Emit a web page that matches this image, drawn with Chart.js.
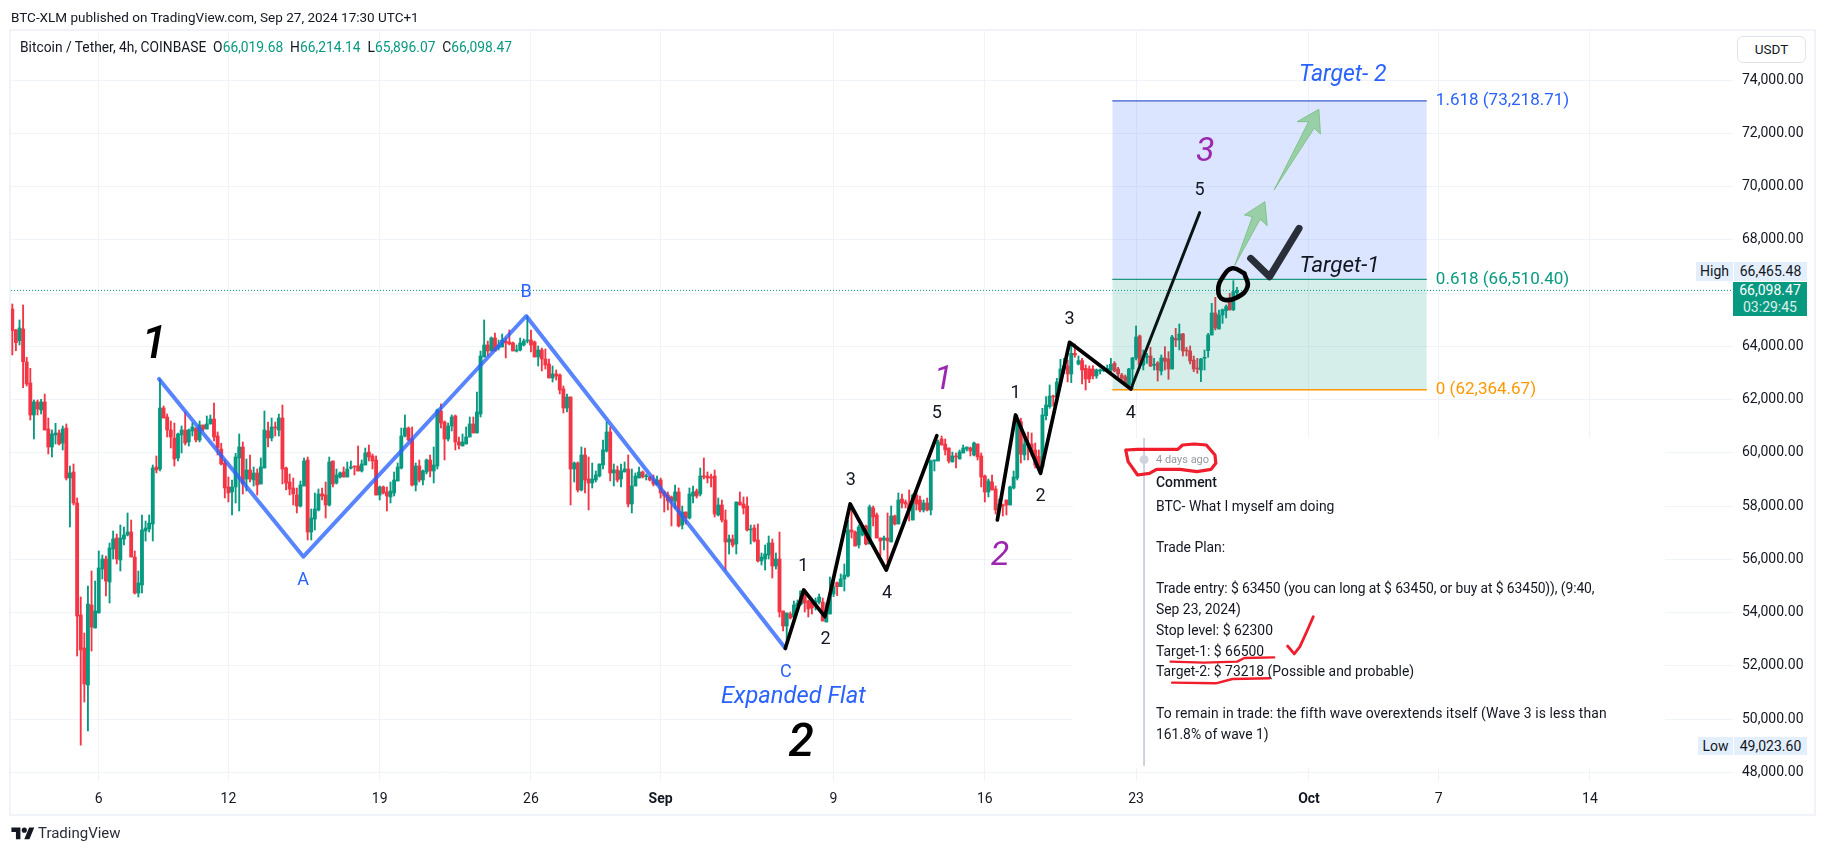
<!DOCTYPE html>
<html><head><meta charset="utf-8">
<script src="https://cdn.jsdelivr.net/npm/chart.js@4"></script>
<style>
html,body{margin:0;padding:0;background:#fff;width:1824px;height:853px;overflow:hidden;font-family:Roboto,sans-serif;color:#131722}
canvas{position:absolute;left:0;top:0}
.abs{position:absolute;white-space:pre}
#frame{position:absolute;left:9px;top:29px;width:1803px;height:783px;border:2px solid #f0f3fa}
.g{color:#089981}
.cl{position:absolute;left:1156px;white-space:pre;font-size:13.9px;line-height:20px;color:#131722}
.bx{position:absolute;text-align:center;font-size:14px;line-height:18px}
</style></head><body>
<div id="frame"></div>
<canvas id="c" width="1824" height="853"></canvas>
<div class="abs" style="left:11px;top:9px;font-size:13.5px;line-height:16px">BTC-XLM published on TradingView.com, Sep 27, 2024 17:30 UTC+1</div>
<div class="abs" style="left:20px;top:39px;font-size:13.8px;line-height:16px">Bitcoin / Tether, 4h, COINBASE  O<span class="g">66,019.68</span>  H<span class="g">66,214.14</span>  L<span class="g">65,896.07</span>  C<span class="g">66,098.47</span></div>
<div class="abs" style="left:1737px;top:36px;width:67px;height:25px;border:1px solid #e0e3eb;border-radius:6px;text-align:center;font-size:13.5px;line-height:25px;background:#fff">USDT</div>
<div class="bx" style="left:1696px;top:262px;width:37px;height:19px;background:#e3effd">High</div>
<div class="bx" style="left:1734px;top:262px;width:73px;height:19px;background:#e3effd">66,465.48</div>
<div class="bx" style="left:1733px;top:282px;width:74px;height:34px;background:#089981;color:#fff;font-size:14px;line-height:17px">66,098.47<br><span style="opacity:.85">03:29:45</span></div>
<div class="bx" style="left:1698px;top:737px;width:35px;height:18px;background:#e3effd">Low</div>
<div class="bx" style="left:1734px;top:737px;width:73px;height:18px;background:#e3effd">49,023.60</div>
<div class="cl" style="top:450px;font-size:11px;color:#9598a1">4 days ago</div>
<div class="cl" style="top:472px;font-weight:500">Comment</div>
<div class="cl" style="top:496px">BTC- What I myself am doing</div>
<div class="cl" style="top:537px">Trade Plan:</div>
<div class="cl" style="top:578px;letter-spacing:-.1px">Trade entry: $ 63450 (you can long at $ 63450, or buy at $ 63450)), (9:40,</div>
<div class="cl" style="top:599px">Sep 23, 2024)</div>
<div class="cl" style="top:620px">Stop level: $ 62300</div>
<div class="cl" style="top:641px">Target-1: $ 66500</div>
<div class="cl" style="top:661px">Target-2: $ 73218 (Possible and probable)</div>
<div class="cl" style="top:703px;letter-spacing:.13px">To remain in trade: the fifth wave overextends itself (Wave 3 is less than</div>
<div class="cl" style="top:724px">161.8% of wave 1)</div>
<svg class="abs" style="left:11px;top:825px" width="24" height="18" viewBox="0 0 36 28"><path fill="#131722" d="M14 22H7V11H0V4h14v18zM28 22h-8l7.5-18h8L28 22z"/><circle fill="#131722" cx="20" cy="8" r="4"/></svg>
<div class="abs" style="left:38px;top:824px;font-size:15px;line-height:18px;color:#2a2e39">TradingView</div>
<script>
const opens=[65401,64612,64212,64650,63411,62622,61421,61909,61608,61909,
60895,60219,60670,60745,60369,60932,59055,59280,58116,53910,
52671,51282,54286,53422,53985,55638,56013,55149,56389,56802,
55976,56764,56915,57027,56088,54736,55037,57065,57140,57328,
59468,59393,61683,61345,60857,60557,59806,60670,60857,60407,
60820,60932,60482,61045,60895,61083,61270,60632,60144,59618,
58717,58529,58717,59806,60219,59017,59355,58980,59243,58830,
59430,60820,60557,60970,60857,61308,59430,58905,58679,58416,
58003,58754,59731,57027,57515,57853,58454,58416,58041,59693,
58867,59092,59280,59092,59430,59505,59505,59318,59543,60031,
59881,59731,58416,58717,58529,58341,58492,58942,59430,60632,
60932,60520,58792,59505,58980,59281,59731,59318,59506,61571,
61158,60520,61008,61384,60407,60257,60332,60595,61083,60745,
61459,63599,64050,63824,64313,63937,63975,64200,64162,64125,
63824,63862,64050,64200,64237,64162,63599,63862,63524,63336,
62811,62961,62923,62398,61684,62097,59393,59619,58605,59919,
59018,58868,58980,59131,59544,60069,60783,59243,59356,59018,
59281,59393,58079,58755,59055,59280,59105,59093,58980,58792,
58980,58529,58417,58342,58191,58529,57290,57778,57553,58379,
58567,58454,59130,59130,59093,59130,57666,58041,57478,56652,
56764,56577,58154,58079,58004,57102,57178,56727,55938,56013,
56164,56614,55750,56013,54061,53497,53948,53835,54248,54324,
54737,54436,54398,54361,54399,54399,53648,53948,54699,55125,
54975,55262,55375,57102,57027,56539,56915,57253,56577,57929,
57666,56802,56727,56802,56652,57628,57328,58267,58154,58079,
57478,58417,58229,57853,58116,57853,59693,59693,60520,60332,
60182,59656,59881,59768,59994,60144,60182,59919,60332,59881,
59130,58529,58905,58642,57853,58041,58229,58041,58679,59055,
61170,59919,60369,60332,60106,59857,59481,61396,61734,62134,
62097,62660,63148,63261,62961,63737,63336,63461,63173,63148,
63148,62886,63073,63086,63111,63111,63361,63148,62923,62861,
62548,63148,63561,64388,63299,63587,63637,63286,63374,63073,
63561,63524,63148,64300,64237,64463,63862,63824,63486,63186,
63111,63549,63837,64425,65251,64650,65176,65339,65664,65376,66019.68];
const highs=[65589,64637,64988,65551,63586,63173,61984,61984,62009,62209,
61308,60857,61108,60857,61008,61083,59505,59581,58304,54586,
53234,54999,55563,55187,56314,56163,56126,56614,57065,56952,
57290,57215,57741,57478,56314,55563,57666,57440,57666,59543,
59881,62772,61759,61458,61195,61120,60745,61008,61533,60895,
61120,60932,61195,61045,61383,61421,61871,60782,60357,59731,
59092,58980,59981,60707,60407,59768,59919,59468,59393,59806,
61571,61158,61308,61158,61458,61796,59468,59205,59055,58679,
58942,59806,59843,57891,58492,58642,58679,58905,59843,59693,
59393,59280,59468,59656,59693,59505,60257,59731,60181,60294,
59956,59881,58754,58754,58717,58905,59280,59618,60932,61421,
60970,60970,59618,59731,59356,59769,59919,60219,61646,61834,
61196,61121,61421,61421,60595,60708,60971,61346,61346,62285,
63824,64989,64200,64350,64500,64237,64463,64313,64613,64162,
64050,64313,64275,65139,64613,64200,64012,63937,63900,63524,
63261,63111,62961,62510,62210,62097,59656,59656,60220,60182,
59844,59619,59318,59581,60482,61158,60971,59581,59506,59581,
59656,59919,59393,59243,59468,59318,59205,59130,59168,59130,
59055,58567,58529,58379,58792,58680,58004,57778,58680,58755,
58642,59431,59806,59280,59205,59355,58304,58229,57853,56915,
56915,58154,58529,58342,58342,57290,57290,57328,56239,56539,
56877,56764,56239,57027,54061,53986,54023,54436,54474,54812,
54849,54474,54436,54549,54699,54549,54361,55337,55225,55150,
55450,55826,57478,58004,57065,57290,57253,57290,58041,58004,
57741,56802,56877,57741,58004,57666,58492,58454,58229,58604,
58454,58567,58379,58229,58304,59731,59731,60482,60632,60520,
60182,60031,59994,60106,60294,60219,60219,60407,60332,59994,
59168,59017,59168,58755,58267,58079,58229,58755,59318,61420,
61300,60745,60782,60745,60369,60107,61671,62110,62548,62172,
62798,63511,63549,63486,64050,64087,63637,63549,63299,63261,
63274,63148,63148,63236,63299,63549,63424,63211,62986,62923,
63173,63587,64763,64425,63862,63737,63962,63549,63424,63674,
63987,63799,64413,64675,64838,64488,63962,64012,63637,63549,
63549,63862,64488,65614,65840,65364,65402,65552,65990,66465.48,66214.14];
const lows=[63674,63836,64049,62447,62510,61233,60519,61421,61458,60857,
59956,59843,60332,60294,60106,58980,57215,58041,52371,49023.6,
50643,49555,52558,53422,53985,55262,54624,54361,56013,55826,
55563,56539,56877,56088,54699,54586,54736,56689,57027,56689,
59243,59318,61308,60594,60181,59505,59693,59994,60294,60256,
60632,60407,60407,60820,60895,61083,60444,59919,59543,58304,
58154,57665,58116,57816,58454,58567,58905,58754,58416,58830,
59430,60219,60444,60632,60632,58830,58604,58416,58041,57741,
57966,58754,56727,56727,57102,57816,58229,57553,58003,58717,
58830,59055,59092,59092,59393,59167,59318,59280,59543,59693,
59393,58416,58229,58454,57816,58116,58379,58942,59393,60595,
60444,58754,58567,58905,58793,59206,59093,58868,59393,60933,
59731,60445,60820,60107,60144,60257,60332,60595,60745,60745,
61346,63599,63637,63824,63824,63862,63975,63562,64050,63824,
63787,63824,64012,64125,63787,63599,63261,63073,63148,62811,
62660,62735,62210,61496,61534,58042,58905,58530,58567,58492,
57854,58680,58905,59093,59393,60032,58943,58755,58905,58718,
59281,57966,57741,58755,59055,59055,58980,58943,58755,58792,
58304,57778,57853,57253,57891,57215,57140,57328,57515,58116,
58304,58379,59018,58867,58717,57591,57628,57403,55600,56201,
56464,56201,58041,57703,57065,56577,56652,55901,55788,55600,
56013,55300,55638,53835,53310,52750,53760,53760,54098,54286,
54023,53835,53948,54098,54324,53685,53648,53948,54599,54637,
54975,54812,55337,56802,56501,56426,56877,56539,56577,57253,
56802,56126,56351,55638,56652,57290,57328,57929,57929,57440,
57478,57853,57778,57778,57816,57666,59318,59693,60294,59919,
59618,59656,59431,59768,59994,60069,59881,59881,59731,58717,
58154,58342,58604,57703,57666,57628,57666,58041,58642,58980,
59618,59731,59731,59881,59431,59356,59481,61233,61671,61759,
62047,62610,62986,62660,62635,63587,63299,62585,62360,62635,
62773,62798,62961,63048,63048,63048,63036,62861,62710,62573,
62485,62397,63486,63173,63111,63361,63236,63111,62698,62923,
63111,62760,63148,63987,63862,63637,63637,63336,63048,62986,
62673,63111,63587,64425,64613,64650,64863,65064,65364,65339,65896.07];
const closes=[64587,64137,64688,63423,62585,61421,61909,61646,61909,60857,
60219,60707,60745,60332,60895,59055,59243,58116,53873,52596,
51319,54323,53460,54060,55675,56013,55187,56426,56764,56013,
56802,56915,57027,56088,54736,55112,57102,57177,57365,59430,
59355,61683,61308,60857,60594,59768,60707,60857,60369,60857,
60970,60482,61045,60895,61083,61270,60594,60181,59581,58679,
58492,58717,59843,60219,58830,59355,59017,59243,58792,59468,
60857,60557,60970,60932,61308,59393,58867,58642,58454,58003,
58792,59693,57027,57553,57891,58454,58379,58041,59656,58830,
59167,59243,59092,59393,59468,59468,59318,59581,59994,59844,
59693,58416,58717,58492,58379,58567,58980,59468,60632,60932,
60482,58792,59505,58980,59318,59731,59318,59544,61609,61121,
60520,61008,61346,60407,60295,60407,60595,61083,60745,61534,
63637,64050,63824,64313,63824,64012,64237,64125,64087,63824,
63862,64125,64200,64237,64050,63599,63862,63524,63299,62811,
62961,62886,62360,61684,62097,59393,59619,58605,59919,58980,
58868,59018,59168,59581,60107,60783,59243,59356,58980,59318,
59394,58079,58755,59130,59280,59093,59130,58980,58830,58980,
58492,58379,58191,58191,58529,57253,57778,57553,58454,58529,
58379,59130,59093,59055,59055,57703,58041,57478,56652,56764,
56539,58154,58041,57929,57102,57140,56690,55938,56088,56201,
56614,55750,56013,54023,53497,53986,53798,54286,54361,54812,
54361,54136,54173,54436,54586,53685,53986,54699,54975,54975,
55262,55413,57102,57027,56501,57215,57215,56577,57966,57590,
56802,56689,56802,56689,57628,57328,58229,58116,58079,57853,
58417,58079,57853,58116,57853,59693,59731,60407,60294,60106,
59693,59881,59843,60031,60182,60219,60069,60369,59844,59093,
58529,58942,58604,57853,58079,58004,58041,58717,59093,61170,
59956,60332,60294,60031,59543,59481,61421,61797,62134,62097,
62660,63148,63261,62961,63737,63674,63461,63111,62773,62773,
62886,63111,63111,63136,63173,63324,63073,62961,62798,62610,
63148,63561,64350,63299,63674,63637,63261,63324,63111,63561,
63436,63148,64350,64237,64463,63824,63824,63449,63148,63148,
63524,63587,64425,65251,64688,65176,65376,65489,65364,66052,66098.47];

// time axis: days counted from Aug 0 (Sep 1 = 32, Oct 1 = 62); one bar every 4 hours
const firstBarDay=2, barsPerDay=6;
const tickDays=[6,12,19,26,32,40,47,54,62,68,75];
const tickLabels=["6","12","19","26","Sep","9","16","23","Oct","7","14"];
const priceTicks=[48000,50000,52000,54000,56000,58000,60000,62000,64000,66000,68000,70000,72000,74000];

// price levels
const lastClose=66098.47;
const fibLevels=[73218.71,66510.40,62364.67];
const fibTexts=["1.618 (73,218.71)","0.618 (66,510.40)","0 (62,364.67)"];
const fibStartDay=52.9, fibEndDay=67.45, fibLabelDay=67.87;

// wave counts
const flatDays=[8.79,15.47,25.78,37.77], flatPrices=[62773,56100,65138,52660];
const impulseADays=[37.77,38.62,39.6,40.77,42.44,44.78], impulseAPrices=[52660,54850,53847,58079,55600,60644];
const impulseBDays=[47.58,48.42,49.58,50.92,53.76], impulseBPrices=[57478,61421,59231,64150,62397];
const lastLegDays=[53.76,56.94], lastLegPrices=[62397,69018];

// drawn shapes
const arrowADays=[58.57,59.38,59.01,59.96,60.07,59.74,58.57], arrowAPrices=[67053,68868,68931,69431,68530,68768,67053];
const arrowBDays=[60.4,61.98,61.45,62.46,62.53,62.24,60.4], arrowBPrices=[69894,72435,72435,72899,71972,72185,69894];
const checkDays=[59.3,60.18,61.54], checkPrices=[67303,66615,68430];
const ringDays=[59.01,59.16,58.68,58.02,57.8,58.02,58.46,59.01], ringPrices=[66740,66240,65839,65764,66114,66615,66928,66740];
const scribbleDays=[53.52,53.63,54.07,54.62,54.95,56.04,56.81,57.47,57.69,57.65,57.25,56.7,56.15,55.93,54.07,53.52];
const scribblePrices=[60107,59669,59168,59231,59381,59381,59293,59381,59606,59919,60295,60332,60295,60132,60132,60107];
const underADays=[55.6,57.14,58.68,59.01,60.39], underAPrices=[52159,52121,52159,52296,52321];
const underBDays=[55.67,57.69,58.46,60.18], underBPrices=[51370,51345,51508,51533];
const tickMarkDays=[61.01,61.32,61.58,61.93,62.2], tickMarkPrices=[52747,52447,52722,53348,53848];
const noteLineDays=[54.37,54.37], noteLinePrices=[60557,48250];
const noteBoxDays=[51.06,78.5], noteBoxTop=60557, noteBoxBottom=48166;
const noteDotDay=[54.37], noteDotPrice=[59743];

// wave labels
const smallTexts=["1","2","3","4","5","1","2","3","4","5"];
const smallDays=[38.6,39.63,40.8,42.48,44.78,48.42,49.58,50.92,53.76,56.94];
const smallPrices=[55713,52972,58943,54724,61484,62235,58354,64988,61484,69858];
const abcTexts=["A","B","C"], abcDays=[15.46,25.78,37.79], abcPrices=[55200,66002,51760];
const purpleTexts=["1","2","3"], purpleDays=[45.08,47.7,57.2], purplePrices=[62698,56100,71270];
const bigTexts=["1","2"], bigDays=[8.56,38.5], bigPrices=[63985,49055];

const barDays=opens.map((_,i)=>firstBarDay+i/barsPerDay);
const UP='#089981', DOWN='#F23645';
const candleColors=opens.map((o,i)=>closes[i]>=o?UP:DOWN);
const pts=(d,p)=>d.map((x,i)=>({x:x,y:p[i]}));
const line=(d,p,color,width,order,extra)=>Object.assign({type:'line',data:pts(d,p),borderColor:color,borderWidth:width,pointRadius:0,fill:false,tension:0,order:order,borderCapStyle:'round',borderJoinStyle:'round'},extra||{});

const datasets=[
 line(noteBoxDays,[noteBoxTop,noteBoxTop],'rgba(0,0,0,0)',0,30,{fill:{value:noteBoxBottom},backgroundColor:'#fff'}),
 {type:'bar',data:barDays.map((x,i)=>({x:x,y:[lows[i],highs[i]]})),backgroundColor:candleColors,barThickness:1.2,grouped:false,order:21,minBarLength:1},
 {type:'bar',data:barDays.map((x,i)=>({x:x,y:[opens[i],closes[i]]})),backgroundColor:candleColors,barThickness:3.2,grouped:false,order:20,minBarLength:1},
 line([fibStartDay,fibEndDay],[fibLevels[0],fibLevels[0]],'#3d5fd0',1.3,15,{fill:{value:fibLevels[1]},backgroundColor:'rgba(41,98,255,0.17)',borderCapStyle:'butt'}),
 line([fibStartDay,fibEndDay],[fibLevels[1],fibLevels[1]],'#1b9a80',1.3,14,{fill:{value:fibLevels[2]},backgroundColor:'rgba(8,153,129,0.17)',borderCapStyle:'butt'}),
 line([fibStartDay,fibEndDay],[fibLevels[2],fibLevels[2]],'#ff9800',1.5,13,{borderCapStyle:'butt'}),
 line([barDays[0]-0.06,81.62],[lastClose,lastClose],'#089981',1,12,{borderDash:[1,2],borderCapStyle:'butt'}),
 line(noteLineDays,noteLinePrices,'#c9cbd9',1,11,{borderCapStyle:'butt'}),
 line(noteDotDay,noteDotPrice,'#d1d4dc',0,10,{pointRadius:4.5,pointBackgroundColor:'#d1d4dc',pointBorderWidth:0,showLine:false}),
 line(flatDays,flatPrices,'rgba(41,98,255,0.78)',4,8),
 line(impulseADays,impulseAPrices,'#000',3.7,7),
 line(impulseBDays,impulseBPrices,'#000',3.7,7),
 line(lastLegDays,lastLegPrices,'#0a1412',3,7),
 line(arrowADays,arrowAPrices,'rgba(105,185,110,0.7)',1,6,{fill:'shape',backgroundColor:'rgba(129,199,132,0.72)'}),
 line(arrowBDays,arrowBPrices,'rgba(105,185,110,0.7)',1,6,{fill:'shape',backgroundColor:'rgba(129,199,132,0.72)'}),
 line(checkDays,checkPrices,'#2a2e39',7,5),
 line(ringDays,ringPrices,'#000',4.6,5,{tension:0.45}),
 line(scribbleDays,scribblePrices,'#f01e2c',3.2,4),
 line(underADays,underAPrices,'#f01e2c',2.4,4),
 line(underBDays,underBPrices,'#f01e2c',2.4,4),
 line(tickMarkDays,tickMarkPrices,'#f01e2c',2.8,4),
];

const textPlugin={id:'texts',afterDatasetsDraw(chart){
 const {ctx,scales:{x,y}}=chart;
 const put=(texts,days,prices,font,color,align)=>{
  ctx.save();ctx.font=font;ctx.fillStyle=color;ctx.textAlign=align||'center';ctx.textBaseline='middle';
  texts.forEach((t,i)=>ctx.fillText(t,x.getPixelForValue(days[i]),y.getPixelForValue(prices[i])));
  ctx.restore();};
 const F='Roboto, sans-serif';
 put(smallTexts,smallDays,smallPrices,'18px '+F,'#131722');
 put(abcTexts,abcDays,abcPrices,'18px '+F,'#2962ff');
 put(purpleTexts,purpleDays,purplePrices,'italic 34px '+F,'#9c27b0');
 put(bigTexts,bigDays,bigPrices,'italic 500 46px '+F,'#000');
 put(['Expanded Flat'],[38.14],[50845],'italic 23.7px '+F,'#2962ff');
 put(['Target- 2'],[63.56],[74161],'italic 23px '+F,'#2962ff');
 put(['Target-1'],[63.41],[66990],'italic 22.5px '+F,'#131722');
 put([fibTexts[0]],[fibLabelDay],[fibLevels[0]],'17px '+F,'#2962ff','left');
 put([fibTexts[1]],[fibLabelDay],[fibLevels[1]],'17px '+F,'#089981','left');
 put([fibTexts[2]],[fibLabelDay],[fibLevels[2]],'17px '+F,'#ff9800','left');
}};

new Chart(document.getElementById('c'),{
 type:'bar',
 data:{datasets},
 plugins:[textPlugin],
 options:{
  responsive:false,animation:false,devicePixelRatio:1,
  layout:{padding:{left:11,top:31,right:10,bottom:38}},
  plugins:{legend:{display:false},tooltip:{enabled:false},title:{display:false}},
  events:[],
  scales:{
   x:{type:'linear',min:1.94,max:81.62,offset:false,
      grid:{offset:false,color:'#f0f3fa',drawTicks:false,lineWidth:1},border:{display:false},
      afterFit:s=>{s.height=34},
      afterBuildTicks:a=>{a.ticks=tickDays.map(v=>({value:v}))},
      ticks:{autoSkip:false,maxRotation:0,padding:10,color:'#131722',includeBounds:false,
        callback:v=>tickLabels[tickDays.indexOf(v)],
        font:c=>({family:'Roboto, sans-serif',size:14,weight:(c.tick&&(c.tick.value===32||c.tick.value===62))?'bold':'normal'})}},
   y:{type:'linear',position:'right',min:47677,max:75840,
      grid:{color:'#f0f3fa',drawTicks:false,lineWidth:1},border:{display:false},
      afterFit:s=>{s.width=81},
      afterBuildTicks:a=>{a.ticks=priceTicks.map(v=>({value:v}))},
      ticks:{autoSkip:false,padding:9,color:'#131722',includeBounds:false,
        callback:v=>v===66000?'':v.toLocaleString('en-US',{minimumFractionDigits:2,maximumFractionDigits:2}),
        font:{family:'Roboto, sans-serif',size:14}}}
  }
 }
});
</script>
</body></html>
